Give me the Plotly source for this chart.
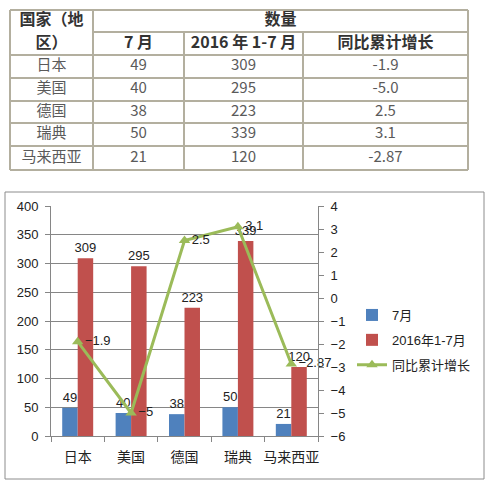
import plotly.graph_objects as go

# 數據
countries = ['日本', '美国', '德国', '瑞典', '马来西亚']
july = [49, 40, 38, 50, 21]
jan_jul_2016 = [309, 295, 223, 339, 120]
yoy_growth = [-1.9, -5.0, 2.5, 3.1, -2.87]

series_names = ['7月', '2016年1-7月', '同比累计增长']
table_head_first = ['国家（地', '区）']
table_head_group = '数量'
table_head_cols = ['7 月', '2016 年 1-7 月', '同比累计增长']

# 版面（像素）
W, H = 491, 483
TABLE_H = 180
col_edges = [10, 93, 184, 303, 468]
row_edges = [10, 32, 55, 78, 101, 123, 146, 170]
border_color = '#b3af9f'
cjk = 'Noto Sans CJK SC'
font_family = 'Liberation Sans, Noto Sans CJK SC'


def px_x(v):
    return v / W


def px_y(v):
    return 1 - v / H


def fmt_growth(v):
    s = f'{v:.2f}'.rstrip('0')
    return s + '0' if s.endswith('.') else s


fig = go.Figure()

# 柱狀圖
fig.add_trace(go.Bar(
    x=countries, y=july, name=series_names[0],
    marker=dict(color='#4f81bd', line=dict(width=0)),
    text=july, textposition='outside', cliponaxis=False, constraintext='none',
    outsidetextfont=dict(size=13, color='#222'),
    legendgroup='a'
))
fig.add_trace(go.Bar(
    x=countries, y=jan_jul_2016, name=series_names[1],
    marker=dict(color='#c0504d', line=dict(width=0)),
    text=jan_jul_2016, textposition='outside', cliponaxis=False, constraintext='none',
    outsidetextfont=dict(size=13, color='#222'),
    legendgroup='b'
))
# 折線（次座標軸）
fig.add_trace(go.Scatter(
    x=countries, y=yoy_growth, name=series_names[2], yaxis='y2',
    mode='lines+markers+text',
    line=dict(color='#9bbb59', width=3),
    marker=dict(symbol='triangle-up', size=10, color='#9bbb59'),
    texttemplate='%{y}', textposition='middle right',
    textfont=dict(size=13, color='#222'), cliponaxis=False,
    legendgroup='c'
))

# 表格文字
body_x, body_y, body_text = [], [], []
centers = [(col_edges[i] + col_edges[i + 1]) / 2 for i in range(4)]
for r, name in enumerate(countries):
    cy = (row_edges[r + 2] + row_edges[r + 3]) / 2
    row_vals = [name, str(july[r]), str(jan_jul_2016[r]), fmt_growth(yoy_growth[r])]
    for c, val in enumerate(row_vals):
        body_x.append(centers[c])
        body_y.append(cy)
        body_text.append(val)

fig.add_trace(go.Scatter(
    x=body_x, y=body_y, text=body_text, mode='text',
    textfont=dict(family=cjk, size=15, color='#5a5a5a'),
    xaxis='x3', yaxis='y3', showlegend=False, hoverinfo='skip'
))

head_x = [centers[0], centers[0], (col_edges[1] + col_edges[4]) / 2] + centers[1:]
head_y = [(row_edges[0] + row_edges[1]) / 2, (row_edges[1] + row_edges[2]) / 2,
          (row_edges[0] + row_edges[1]) / 2] + [(row_edges[1] + row_edges[2]) / 2] * 3
head_text = table_head_first + [table_head_group] + table_head_cols
fig.add_trace(go.Scatter(
    x=head_x, y=head_y, text=['<b>%s</b>' % t for t in head_text], mode='text',
    textfont=dict(family=cjk, size=16, color='#333'),
    xaxis='x3', yaxis='y3', showlegend=False, hoverinfo='skip'
))

# 表格線
shapes = []
for i, yv in enumerate(row_edges):
    x0 = col_edges[1] if i == 1 else col_edges[0]
    shapes.append(dict(type='line', xref='x3', yref='y3', x0=x0, x1=col_edges[-1],
                       y0=yv, y1=yv, line=dict(color=border_color, width=2)))
for i, xv in enumerate(col_edges):
    y0 = row_edges[1] if i in (2, 3) else row_edges[0]
    shapes.append(dict(type='line', xref='x3', yref='y3', x0=xv, x1=xv,
                       y0=y0, y1=row_edges[-1], line=dict(color=border_color, width=2)))
# 圖表外框
shapes.append(dict(type='rect', xref='paper', yref='paper',
                   x0=px_x(5), x1=px_x(484), y0=px_y(479), y1=px_y(192),
                   line=dict(color='#8c8c8c', width=1), layer='below'))

axis_line = '#868686'
fig.update_layout(
    width=W, height=H,
    margin=dict(l=0, r=0, t=0, b=0),
    paper_bgcolor='white', plot_bgcolor='rgba(0,0,0,0)',
    font=dict(family=font_family, size=13, color='#222'),
    barmode='group', bargap=0.42, bargroupgap=0,
    showlegend=True,
    legend=dict(x=px_x(352), y=px_y(300), xanchor='left', yanchor='top',
                font=dict(size=13), tracegroupgap=5, traceorder='grouped',
                itemwidth=30, bgcolor='rgba(0,0,0,0)'),
    xaxis=dict(domain=[px_x(51), px_x(318)], type='category', automargin=False,
               showline=True, linecolor=axis_line, linewidth=1, tickangle=0,
               ticks='outside', tickson='boundaries', ticklen=5, tickcolor=axis_line,
               ticklabelstandoff=8,
               tickfont=dict(size=14), showgrid=False, anchor='y'),
    yaxis=dict(domain=[px_y(436), px_y(206)], range=[0, 400], dtick=50, automargin=False,
               showline=True, linecolor=axis_line, linewidth=1,
               ticks='outside', ticklen=5, tickcolor=axis_line, ticklabelstandoff=4,
               showgrid=True, gridcolor=axis_line, gridwidth=1, zeroline=False,
               tickfont=dict(size=13)),
    yaxis2=dict(overlaying='y', side='right', range=[-6, 4], dtick=1, automargin=False,
                showline=True, linecolor=axis_line, linewidth=1,
                ticks='outside', ticklen=5, tickcolor=axis_line, ticklabelstandoff=4,
                showgrid=False, zeroline=False, tickfont=dict(size=13)),
    xaxis3=dict(domain=[0, 1], range=[0, W], visible=False, fixedrange=True,
                anchor='y3', automargin=False),
    yaxis3=dict(domain=[px_y(TABLE_H), 1], range=[TABLE_H, 0], visible=False,
                fixedrange=True, anchor='x3', automargin=False),
    shapes=shapes,
)

# 去掉頁面預設邊距，讓圖剛好填滿視窗
fig.write_html("out.html", config={'displayModeBar': False},
               post_script="document.body.style.margin='0';document.body.style.overflow='hidden';")
